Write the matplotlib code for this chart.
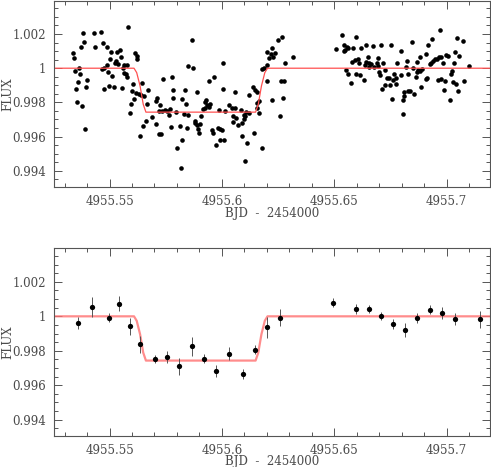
import numpy as np
import matplotlib
matplotlib.use("Agg")
import matplotlib.pyplot as plt
from matplotlib.ticker import MultipleLocator, FuncFormatter

# ---- data (BJD - 2454000, relative flux) ----
raw_pre = [
    (4955.5584, 1.00240), (4955.5382, 1.00205), (4955.5430, 1.00205), (4955.5464, 1.00213),
    (4955.5388, 1.00152), (4955.5372, 1.00125), (4955.5434, 1.00127), (4955.5473, 1.00148),
    (4955.5490, 1.00127), (4955.5336, 1.00088), (4955.5344, 1.00059), (4955.5508, 1.00094),
    (4955.5532, 1.00092), (4955.5545, 1.00107), (4955.5550, 1.00065), (4955.5527, 1.00045),
    (4955.5523, 1.00029), (4955.5539, 1.00025), (4955.5502, 1.00055), (4955.5490, 1.00016),
    (4955.5476, 1.00004), (4955.5468, 0.99996), (4955.5566, 1.00020), (4955.5579, 1.00016),
    (4955.5612, 1.00088), (4955.5624, 1.00072), (4955.5621, 1.00055), (4955.5364, 1.00000),
    (4955.5346, 0.99985), (4955.5370, 0.99967), (4955.5493, 0.99979), (4955.5513, 0.99955),
    (4955.5562, 1.00000), (4955.5564, 0.99971), (4955.5573, 0.99965), (4955.5576, 0.99951),
    (4955.5360, 0.99922), (4955.5401, 0.99930), (4955.5397, 0.99891), (4955.5351, 0.99879),
    (4955.5476, 0.99879), (4955.5498, 0.99897), (4955.5519, 0.99893), (4955.5557, 0.99885),
    (4955.5603, 0.99907), (4955.5645, 0.99914), (4955.5599, 0.99864), (4955.5618, 0.99854),
    (4955.5631, 0.99850), (4955.5642, 0.99842), (4955.5653, 0.99838), (4955.5671, 0.99873),
    (4955.5609, 0.99821), (4955.5594, 0.99790), (4955.5591, 0.99737), (4955.5665, 0.99790),
    (4955.5355, 0.99803), (4955.5379, 0.99778), (4955.5391, 0.99645),
]
raw_in = [
    (4955.5705, 0.99809), (4955.5713, 0.99825), (4955.5725, 0.99784), (4955.5738, 0.99936),
    (4955.5777, 0.99948), (4955.5782, 0.99875), (4955.5782, 0.99823), (4955.5722, 0.99747),
    (4955.5735, 0.99751), (4955.5747, 0.99753), (4955.5757, 0.99747), (4955.5768, 0.99760),
    (4955.5765, 0.99727), (4955.5688, 0.99712), (4955.5661, 0.99692), (4955.5650, 0.99663),
    (4955.5707, 0.99673), (4955.5731, 0.99618), (4955.5722, 0.99614), (4955.5636, 0.99602),
    (4955.5775, 0.99655),
    (4955.5867, 1.00164), (4955.5851, 1.00014), (4955.5870, 1.00004), (4955.6004, 1.00029),
    (4955.5941, 0.99924), (4955.5964, 0.99946), (4955.6007, 0.99881), (4955.6058, 0.99860),
    (4955.5889, 0.99858), (4955.5835, 0.99870), (4955.5824, 0.99821), (4955.5839, 0.99792),
    (4955.5926, 0.99805), (4955.5931, 0.99815), (4955.5935, 0.99786), (4955.5924, 0.99766),
    (4955.5941, 0.99772), (4955.5946, 0.99790), (4955.5918, 0.99760), (4955.5795, 0.99745),
    (4955.5830, 0.99735), (4955.5848, 0.99727), (4955.5906, 0.99723), (4955.5986, 0.99755),
    (4955.6014, 0.99751), (4955.6032, 0.99784), (4955.6044, 0.99766), (4955.6060, 0.99770),
    (4955.6087, 0.99753), (4955.6099, 0.99729), (4955.6109, 0.99745), (4955.6122, 0.99737),
    (4955.6051, 0.99721), (4955.6064, 0.99706), (4955.6048, 0.99684), (4955.6070, 0.99669),
    (4955.6097, 0.99702), (4955.6103, 0.99718), (4955.6090, 0.99682), (4955.6119, 0.99844),
    (4955.5812, 0.99663), (4955.5843, 0.99653), (4955.5879, 0.99692), (4955.5882, 0.99678),
    (4955.5891, 0.99669), (4955.5901, 0.99673), (4955.5894, 0.99643), (4955.5897, 0.99620),
    (4955.5955, 0.99640), (4955.5959, 0.99620), (4955.5981, 0.99649), (4955.5992, 0.99645),
    (4955.5999, 0.99640), (4955.5992, 0.99579), (4955.6010, 0.99579), (4955.5975, 0.99552),
    (4955.5823, 0.99581), (4955.5799, 0.99532), (4955.5817, 0.99419), (4955.6103, 0.99460),
    (4955.6143, 0.99620), (4955.6090, 0.99606), (4955.6112, 0.99561), (4955.6177, 0.99532),
]
raw_post = [
    (4955.6140, 0.99889), (4955.6147, 0.99873), (4955.6155, 0.99862), (4955.6158, 0.99795),
    (4955.6167, 0.99809), (4955.6158, 0.99770), (4955.6167, 0.99737), (4955.6202, 0.99928),
    (4955.6225, 0.99815), (4955.6259, 0.99718), (4955.6262, 0.99926), (4955.6276, 0.99926),
    (4955.6271, 0.99827), (4955.6279, 1.00029), (4955.6177, 0.99998), (4955.6188, 1.00002),
    (4955.6202, 1.00016), (4955.6211, 1.00059), (4955.6222, 1.00117), (4955.6201, 1.00092),
    (4955.6219, 1.00082), (4955.6229, 1.00065), (4955.6236, 1.00088), (4955.6250, 1.00164),
    (4955.6266, 1.00182), (4955.6315, 1.00063),
    (4955.6535, 1.00193), (4955.6598, 1.00185), (4955.6508, 1.00111), (4955.6544, 1.00133),
    (4955.6555, 1.00127), (4955.6561, 1.00119), (4955.6548, 1.00107), (4955.6544, 1.00098),
    (4955.6585, 1.00121), (4955.6618, 1.00117), (4955.6640, 1.00137), (4955.6673, 1.00131),
    (4955.6708, 1.00137), (4955.6754, 1.00137), (4955.6799, 1.00098), (4955.6581, 1.00039),
    (4955.6594, 1.00047), (4955.6604, 1.00053), (4955.6612, 1.00029), (4955.6649, 1.00067),
    (4955.6643, 1.00039), (4955.6656, 1.00033), (4955.6662, 1.00024), (4955.6636, 1.00020),
    (4955.6653, 1.00010), (4955.6679, 1.00010), (4955.6693, 1.00061), (4955.6689, 1.00029),
    (4955.6695, 1.00014), (4955.6719, 1.00033), (4955.6781, 1.00028), (4955.6552, 0.99990),
    (4955.6561, 0.99965), (4955.6575, 0.99916), (4955.6598, 0.99965), (4955.6613, 0.99961),
    (4955.6633, 0.99932), (4955.6699, 0.99977), (4955.6702, 0.99959), (4955.6726, 0.99987),
    (4955.6733, 0.99944), (4955.6745, 0.99940), (4955.6766, 0.99965), (4955.6775, 0.99944),
    (4955.6797, 0.99963), (4955.6747, 0.99901), (4955.6726, 0.99903), (4955.6714, 0.99879),
    (4955.6775, 0.99907), (4955.6762, 0.99930), (4955.6811, 0.99862), (4955.6809, 0.99838),
    (4955.6805, 0.99815), (4955.6759, 0.99817), (4955.6805, 0.99733),
    (4955.6969, 1.00221), (4955.6848, 1.00154), (4955.6934, 1.00172), (4955.6919, 1.00137),
    (4955.7046, 1.00176), (4955.7075, 1.00162), (4955.7038, 1.00094), (4955.7055, 1.00072),
    (4955.6999, 1.00080), (4955.7005, 1.00074), (4955.6907, 1.00084), (4955.6882, 1.00068),
    (4955.6867, 1.00035), (4955.6825, 1.00041), (4955.6818, 1.00010), (4955.6830, 0.99967),
    (4955.6849, 1.00000), (4955.6874, 0.99990), (4955.6883, 0.99985), (4955.6868, 0.99977),
    (4955.6892, 0.99996), (4955.6925, 1.00024), (4955.6931, 1.00033), (4955.6940, 1.00043),
    (4955.6947, 1.00053), (4955.6956, 1.00055), (4955.6968, 1.00063), (4955.6974, 1.00065),
    (4955.6983, 1.00029), (4955.7035, 1.00029), (4955.7101, 1.00014), (4955.7026, 0.99981),
    (4955.7021, 0.99965), (4955.6914, 0.99942), (4955.6910, 0.99936), (4955.6863, 0.99948),
    (4955.6888, 0.99893), (4955.6963, 0.99930), (4955.6975, 0.99936), (4955.6993, 0.99924),
    (4955.7030, 0.99918), (4955.7043, 0.99907), (4955.7079, 0.99924), (4955.6989, 0.99870),
    (4955.7052, 0.99864), (4955.7017, 0.99815), (4955.6857, 0.99850), (4955.6830, 0.99868),
    (4955.6839, 0.99866),
]

bin_t = [4955.5358, 4955.5423, 4955.5498, 4955.5544, 4955.5591, 4955.5637, 4955.5701,
         4955.5756, 4955.5811, 4955.5866, 4955.5921, 4955.5975, 4955.6033, 4955.6093,
         4955.6149, 4955.6202, 4955.6259, 4955.6495, 4955.6598, 4955.6653, 4955.6707,
         4955.6762, 4955.6815, 4955.6870, 4955.6926, 4955.6981, 4955.7037, 4955.7149]
bin_f = [0.99961, 1.00053, 0.99992, 1.00074, 0.99941, 0.99838, 0.99754,
         0.99763, 0.99709, 0.99826, 0.99754, 0.99684, 0.99783, 0.99664,
         0.99807, 0.99936, 0.99992, 1.00080, 1.00043, 1.00043, 1.00000,
         0.99955, 0.99920, 0.99992, 1.00039, 1.00018, 0.99982, 0.99982]
bin_err = [0.00037, 0.00059, 0.00026, 0.00045, 0.00049, 0.00049, 0.00023,
           0.00033, 0.00050, 0.00055, 0.00027, 0.00036, 0.00039, 0.00029,
           0.00027, 0.00060, 0.00049, 0.00024, 0.00029, 0.00021, 0.00024,
           0.00027, 0.00039, 0.00029, 0.00024, 0.00035, 0.00035, 0.00049]

# transit model (trapezoid with slightly rounded contacts)
model_t = [4955.5253, 4955.5609, 4955.5621, 4955.5636, 4955.5650, 4955.5662,
           4955.6150, 4955.6162, 4955.6176, 4955.6191, 4955.6203, 4955.7193]
model_f = [1.0, 1.0, 0.99974, 0.99896, 0.99789, 0.99743,
           0.99743, 0.99789, 0.99896, 0.99974, 1.0, 1.0]

XLIM = (4955.5253, 4955.7193)
YLIM = (0.99305, 1.00395)

raw = raw_pre + raw_in + raw_post
bjd_raw = np.array([p[0] for p in raw])
flux_raw = np.array([p[1] for p in raw])

plt.rcParams["font.family"] = "DejaVu Serif"
plt.rcParams["font.size"] = 8.5
TXT = "#4a4a4a"
FRAME = "#555555"

fig = plt.figure(figsize=(4.91, 4.67), dpi=100)
ax1 = fig.add_axes([54 / 491, 1 - 187 / 467, 436 / 491, 186.3 / 467])
ax2 = fig.add_axes([54 / 491, 1 - 436 / 467, 436 / 491, 187.7 / 467])


def style(ax):
    ax.set_xlim(*XLIM)
    ax.set_ylim(*YLIM)
    ax.xaxis.set_major_locator(MultipleLocator(0.05))
    ax.xaxis.set_minor_locator(MultipleLocator(0.01))
    ax.yaxis.set_major_locator(MultipleLocator(0.002))
    ax.yaxis.set_minor_locator(MultipleLocator(0.0005))
    ax.xaxis.set_major_formatter(FuncFormatter(lambda v, p: f"{v:.4f}".rstrip("0").rstrip(".")))
    ax.yaxis.set_major_formatter(FuncFormatter(lambda v, p: f"{v:.3f}".rstrip("0").rstrip(".")))
    ax.tick_params(which="both", direction="in", top=True, right=True,
                   color=FRAME, width=0.7, labelcolor=TXT, labelsize=8.5)
    ax.tick_params(which="major", length=6, pad=6)
    ax.tick_params(which="minor", length=3)
    for s in ax.spines.values():
        s.set_color(FRAME)
        s.set_linewidth(0.8)
    ax.set_xlabel("BJD  -  2454000", color=TXT)
    ax.set_ylabel("FLUX", color=TXT)
    ax.xaxis.set_label_coords(0.5, -26 / ax.bbox.height)
    ax.xaxis.label.set_va("center")
    ax.yaxis.set_label_coords(-40 / 436, 0.5)


ax1.plot(bjd_raw, flux_raw, "o", color="black", ms=3.3, mew=0)
ax1.plot(model_t, model_f, "-", color="#ff5050", lw=0.9)
style(ax1)

ax2.errorbar(bin_t, bin_f, yerr=bin_err, fmt="o", color="black", ms=3.8, mew=0,
             ecolor="#555555", elinewidth=0.7, capsize=2, capthick=0.7, zorder=3)
ax2.plot(model_t, model_f, "-", color="#ff7070", lw=1.6, alpha=0.8, zorder=2)
style(ax2)

fig.savefig("out.png", dpi=100)
